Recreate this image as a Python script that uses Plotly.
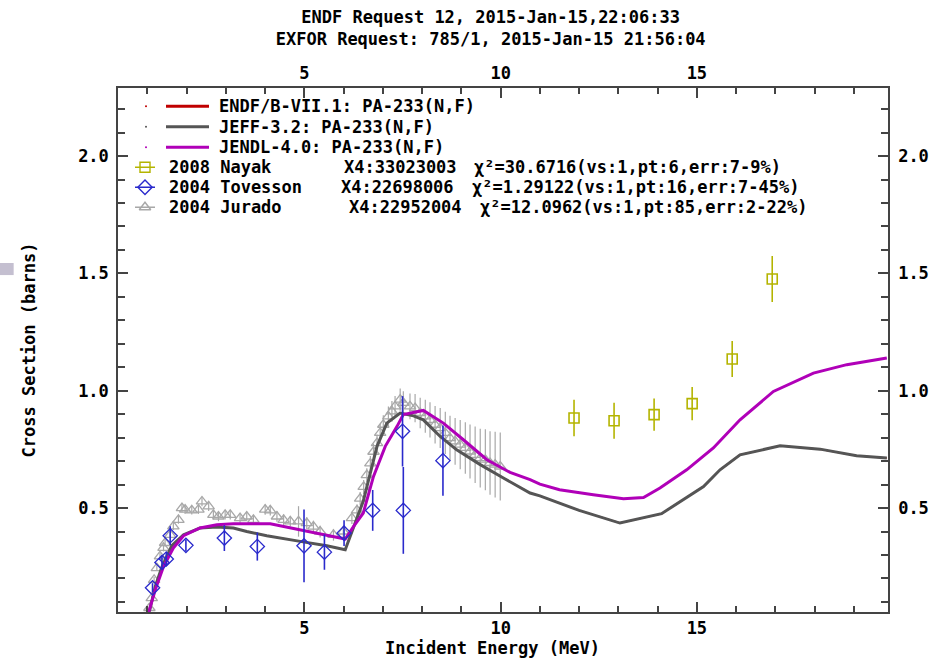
import plotly.graph_objects as go

# ---------------- data ----------------
TITLE_LINES = ["ENDF Request 12, 2015-Jan-15,22:06:33",
               "EXFOR Request: 785/1, 2015-Jan-15 21:56:04"]
X_TITLE = "Incident Energy (MeV)"
Y_TITLE = "Cross Section (barns)"
X_TICKS = [5, 10, 15]
Y_TICKS = [0.5, 1.0, 1.5, 2.0]

jeff_e = [1.05, 1.2, 1.37, 1.62, 1.92, 2.34, 2.77, 3.19, 3.53, 4.04, 4.89, 5.57, 6.04,
          6.17, 6.5, 6.85, 7.1, 7.44, 7.78, 8.03, 8.46, 8.88, 9.48, 10.07, 10.75, 11.0,
          12.0, 13.04, 14.1, 15.17, 15.59, 16.1, 17.12, 18.14, 19.07, 19.84]
jeff_s = [0.059, 0.166, 0.25, 0.34, 0.386, 0.415, 0.419, 0.415, 0.40, 0.382, 0.358, 0.339, 0.322,
          0.379, 0.53, 0.763, 0.862, 0.905, 0.893, 0.876, 0.805, 0.748, 0.685, 0.628, 0.564, 0.552,
          0.49, 0.436, 0.476, 0.592, 0.663, 0.727, 0.765, 0.751, 0.723, 0.713]

# ENDF/B-VII.1 coincides with JEFF-3.2 on this plot (hidden beneath it)
endf_e = list(jeff_e)
endf_s = list(jeff_s)

jendl_e = [1.03, 1.2, 1.41, 1.66, 1.92, 2.34, 2.77, 3.19, 4.13, 4.89, 5.57, 6.04, 6.25, 6.5,
           6.76, 7.06, 7.36, 7.52, 8.03, 8.54, 9.05, 9.65, 10.24, 10.75, 11.0, 11.5, 12.36,
           13.13, 13.64, 14.06, 14.74, 15.42, 16.1, 16.95, 17.97, 18.82, 19.84]
jendl_s = [0.055, 0.152, 0.251, 0.33, 0.382, 0.415, 0.429, 0.433, 0.433, 0.407, 0.386, 0.368, 0.421, 0.479,
           0.635, 0.763, 0.848, 0.898, 0.916, 0.862, 0.791, 0.706, 0.652, 0.621, 0.602, 0.578, 0.557,
           0.54, 0.545, 0.585, 0.663, 0.756, 0.876, 0.997, 1.075, 1.111, 1.139]

nayak_e = [11.87, 12.89, 13.91, 14.88, 15.9, 16.92]
nayak_s = [0.884, 0.872, 0.898, 0.945, 1.135, 1.476]
nayak_err = [0.078, 0.077, 0.069, 0.071, 0.077, 0.098]

tovesson_e = [1.13, 1.37, 1.48, 1.58, 1.98, 2.96, 3.8, 4.99, 5.51, 6.01, 6.74, 7.5, 7.52, 8.53]
tovesson_s = [0.16, 0.268, 0.283, 0.382, 0.341, 0.372, 0.336, 0.339, 0.312, 0.393, 0.49, 0.827, 0.49, 0.702]
tovesson_err = [0.02, 0.03, 0.03, 0.04, 0.025, 0.055, 0.06, 0.155, 0.075, 0.055, 0.087, 0.15, 0.185, 0.15]

jurado_e = [1.05, 1.11, 1.17, 1.24, 1.32, 1.41, 1.45, 1.58, 1.66, 1.79, 1.88, 1.96, 2.13, 2.3,
            2.39, 2.56, 2.68, 2.81, 2.98, 3.11, 3.36, 3.53, 3.7, 4.0, 4.13, 4.3, 4.47, 4.64,
            4.85, 5.06, 5.23, 5.4, 5.74, 5.99, 6.21, 6.34, 6.42, 6.51, 6.59, 6.68, 6.76, 6.85,
            6.93, 7.01, 7.14, 7.23, 7.31, 7.44, 7.52, 7.69, 7.82, 7.95, 8.08, 8.2, 8.33, 8.46,
            8.59, 8.71, 8.84, 8.97, 9.1, 9.22, 9.35, 9.48, 9.61, 9.73, 9.86, 9.99]
jurado_s = [0.074, 0.116, 0.194, 0.244, 0.294, 0.33, 0.351, 0.386, 0.422, 0.45, 0.5, 0.493, 0.49, 0.493,
            0.528, 0.507, 0.471, 0.464, 0.471, 0.471, 0.457, 0.464, 0.45, 0.493, 0.49, 0.464, 0.45, 0.443,
            0.443, 0.436, 0.421, 0.4, 0.386, 0.4, 0.457, 0.49, 0.54, 0.59, 0.64, 0.69, 0.74, 0.777,
            0.82, 0.855, 0.891, 0.912, 0.933, 0.962, 0.948, 0.933, 0.926, 0.905, 0.891, 0.876, 0.855, 0.841,
            0.82, 0.798, 0.784, 0.77, 0.756, 0.741, 0.727, 0.713, 0.706, 0.692, 0.685, 0.677]
jurado_err = [0.01, 0.01, 0.012, 0.012, 0.014, 0.015, 0.015, 0.016, 0.016, 0.017, 0.018, 0.018, 0.018, 0.018,
              0.02, 0.02, 0.02, 0.02, 0.02, 0.02, 0.02, 0.02, 0.02, 0.022, 0.022, 0.022, 0.022, 0.022,
              0.065, 0.025, 0.025, 0.025, 0.025, 0.025, 0.025, 0.025, 0.028, 0.03, 0.03, 0.032, 0.034, 0.036,
              0.038, 0.04, 0.042, 0.044, 0.045, 0.047, 0.05, 0.055, 0.06, 0.065, 0.07, 0.075, 0.08, 0.085,
              0.09, 0.095, 0.1, 0.105, 0.11, 0.115, 0.12, 0.125, 0.13, 0.135, 0.14, 0.145]

EVAL_NAMES = ["ENDF/B-VII.1: PA-233(N,F)", "JEFF-3.2: PA-233(N,F)", "JENDL-4.0: PA-233(N,F)"]
DATA_NAMES = ["2008 Nayak", "2004 Tovesson", "2004 Jurado"]
DATA_IDS = ["X4:33023003", "X4:22698006", "X4:22952004"]
DATA_CHI = ["χ²=30.6716(vs:1,pt:6,err:7-9%)",
            "χ²=1.29122(vs:1,pt:16,err:7-45%)",
            "χ²=12.0962(vs:1,pt:85,err:2-22%)"]

# ---------------- style ----------------
C_ENDF = "#c00000"
C_JEFF = "#555555"
C_JENDL = "#b000b8"
C_NAYAK = "#b4b400"
C_TOV = "#2a2acc"
C_JUR = "#a8a8a8"
AX = "#444444"
FONT = dict(family="DejaVu Sans Mono", size=17, color="black", weight="bold")

X_RANGE = [0.25, 19.87]
Y_RANGE = [0.057, 2.29]
PLOT_W, PLOT_H = 770, 524.3  # plot area in pixels (for legend overlay axes)

fig = go.Figure()

# experimental data (below curves)
fig.add_trace(go.Scatter(x=jurado_e, y=jurado_s, mode="markers", name=DATA_NAMES[2],
                         marker=dict(symbol="triangle-up-open", size=10, color=C_JUR, line=dict(width=1.3)),
                         error_y=dict(type="data", array=jurado_err, width=0, thickness=1.2, color=C_JUR),
                         showlegend=False))
# evaluations
for e, s, c, n, w in [(endf_e, endf_s, C_ENDF, EVAL_NAMES[0], 1.5),
                      (jeff_e, jeff_s, C_JEFF, EVAL_NAMES[1], 3),
                      (jendl_e, jendl_s, C_JENDL, EVAL_NAMES[2], 3)]:
    fig.add_trace(go.Scatter(x=e, y=s, mode="lines", name=n, line=dict(color=c, width=w),
                             showlegend=False))
fig.add_trace(go.Scatter(x=tovesson_e, y=tovesson_s, mode="markers", name=DATA_NAMES[1],
                         marker=dict(symbol="diamond-open", size=11, color=C_TOV, line=dict(width=1.3)),
                         error_y=dict(type="data", array=tovesson_err, width=0, thickness=1.6, color=C_TOV),
                         showlegend=False))
fig.add_trace(go.Scatter(x=nayak_e, y=nayak_s, mode="markers", name=DATA_NAMES[0],
                         marker=dict(symbol="square-open", size=10, color=C_NAYAK, line=dict(width=1.6)),
                         error_y=dict(type="data", array=nayak_err, width=0, thickness=1.6, color=C_NAYAK),
                         showlegend=False))
# empty trace for mirrored (top/right) labelled axes
fig.add_trace(go.Scatter(x=[None], y=[None], xaxis="x2", yaxis="y2", showlegend=False,
                         hoverinfo="skip"))

# ---------------- legend (drawn inside plot on an overlay pixel axis) ----------------
ROW_Y = [506, 485.5, 465, 445, 425, 405]          # px above plot bottom
EVAL_LINE_X = [48, 91]
EVAL_DOT_X = 28
EVAL_TEXT_X = 99
DATA_LINE_X = [17, 37]
DATA_MARK_X = 27
DATA_TEXT_X = [49, [223.5, 221, 228.5], [353.5, 351.5, 359.5]]

eval_colors = [C_ENDF, C_JEFF, C_JENDL]
for i, (n, c) in enumerate(zip(EVAL_NAMES, eval_colors)):
    fig.add_trace(go.Scatter(x=EVAL_LINE_X, y=[ROW_Y[i]] * 2, mode="lines", xaxis="x3", yaxis="y3",
                             line=dict(color=c, width=3), showlegend=False, hoverinfo="skip"))
    fig.add_trace(go.Scatter(x=[EVAL_DOT_X], y=[ROW_Y[i]], mode="markers", xaxis="x3", yaxis="y3",
                             marker=dict(color=c, size=2), showlegend=False, hoverinfo="skip"))
    fig.add_annotation(x=EVAL_TEXT_X, y=ROW_Y[i], xref="x3", yref="y3", text=n, showarrow=False,
                       xanchor="left", yanchor="middle", font=FONT)

data_styles = [("square-open", C_NAYAK, 10), ("diamond-open", C_TOV, 11), ("triangle-up-open", C_JUR, 10)]
for j, (sym, c, sz) in enumerate(data_styles):
    ry = ROW_Y[3 + j]
    fig.add_trace(go.Scatter(x=DATA_LINE_X, y=[ry] * 2, mode="lines", xaxis="x3", yaxis="y3",
                             line=dict(color=c, width=1.5), showlegend=False, hoverinfo="skip"))
    fig.add_trace(go.Scatter(x=[DATA_MARK_X], y=[ry], mode="markers", xaxis="x3", yaxis="y3",
                             marker=dict(symbol=sym, size=sz, color=c, line=dict(width=1.4)),
                             showlegend=False, hoverinfo="skip"))
    for txt, xx in [(DATA_NAMES[j], DATA_TEXT_X[0]), (DATA_IDS[j], DATA_TEXT_X[1][j]),
                    (DATA_CHI[j], DATA_TEXT_X[2][j])]:
        fig.add_annotation(x=xx, y=ry, xref="x3", yref="y3", text=txt, showarrow=False,
                           xanchor="left", yanchor="middle", font=FONT)

# x-axis title placed explicitly below the tick labels
fig.add_annotation(x=0.487, y=-0.068, xref="paper", yref="paper", text=X_TITLE, showarrow=False,
                   xanchor="center", yanchor="middle", font=FONT)

axis_common = dict(showline=True, linecolor=AX, linewidth=1.5, ticks="inside", tickcolor=AX,
                   tickwidth=1.5, showgrid=False, zeroline=False, tickfont=FONT, fixedrange=True,
                   automargin=False)

fig.update_layout(
    width=940, height=660,
    margin=dict(l=118, r=52, t=88, b=48),
    paper_bgcolor="white", plot_bgcolor="white",
    showlegend=False,
    title=dict(text="<br>".join(TITLE_LINES), x=0.522, xanchor="center", y=0.965, yanchor="top",
               font=FONT, automargin=False),
    xaxis=dict(range=X_RANGE, tickvals=X_TICKS, ticktext=[str(v) for v in X_TICKS], ticklen=10,
               minor=dict(dtick=1, tick0=0, ticks="inside", ticklen=6, tickcolor=AX, tickwidth=1.5),
               ticklabelstandoff=0, **axis_common),
    yaxis=dict(range=Y_RANGE, tickvals=Y_TICKS, ticktext=[f"{v:.1f}" for v in Y_TICKS], ticklen=10,
               minor=dict(dtick=0.1, tick0=0, ticks="inside", ticklen=7, tickcolor=AX, tickwidth=1.5),
               title=dict(text=Y_TITLE, font=FONT, standoff=38), ticklabelstandoff=4,
               **axis_common),
    xaxis2=dict(range=X_RANGE, overlaying="x", side="top", anchor="y", tickvals=X_TICKS,
                ticktext=[str(v) for v in X_TICKS], ticklen=10,
                minor=dict(dtick=1, tick0=0, ticks="inside", ticklen=6, tickcolor=AX, tickwidth=1.5),
                ticklabelstandoff=0, **axis_common),
    yaxis2=dict(range=Y_RANGE, overlaying="y", side="right", anchor="x", tickvals=Y_TICKS,
                ticktext=[f"{v:.1f}" for v in Y_TICKS], ticklen=10,
                minor=dict(dtick=0.1, tick0=0, ticks="inside", ticklen=7, tickcolor=AX, tickwidth=1.5),
                ticklabelstandoff=5, **axis_common),
    xaxis3=dict(range=[0, PLOT_W], overlaying="x", anchor="y3", visible=False, fixedrange=True),
    yaxis3=dict(range=[0, PLOT_H], overlaying="y", anchor="x3", visible=False, fixedrange=True),
    shapes=[dict(type="rect", xref="paper", yref="paper", x0=-0.1536, x1=-0.1355, y0=0.643, y1=0.666,
                 fillcolor="#c4bfd0", line=dict(width=0), layer="above")],
)

fig.write_html("out.html")
